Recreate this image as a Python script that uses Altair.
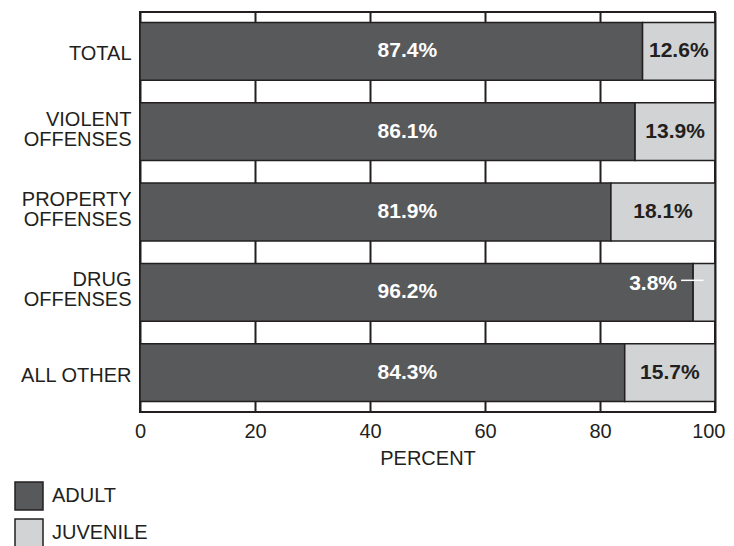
import altair as alt
import pandas as pd

categories = ["TOTAL", "VIOLENT OFFENSES", "PROPERTY OFFENSES", "DRUG OFFENSES", "ALL OTHER"]
adult = [87.4, 86.1, 81.9, 96.2, 84.3]
juvenile = [12.6, 13.9, 18.1, 3.8, 15.7]
groups = ["ADULT", "JUVENILE"]
x_ticks = [0, 20, 40, 60, 80, 100]

DARK = "#58595b"
LIGHT = "#d1d3d4"
INK = "#231f20"
FONT = "Liberation Sans"

rows = []
for c, a, j in zip(categories, adult, juvenile):
    rows.append({"category": c, "group": "ADULT", "value": a, "ord": 0})
    rows.append({"category": c, "group": "JUVENILE", "value": j, "ord": 1})
long_df = pd.DataFrame(rows)
wide_df = pd.DataFrame({"category": categories, "adult": adult, "juvenile": juvenile})

multi_test = "indexof(datum.label, ' ') >= 0 && datum.label != 'ALL OTHER'"

y_enc = alt.Y(
    "category:N",
    sort=categories,
    scale=alt.Scale(paddingInner=0.28, paddingOuter=0.13),
    axis=alt.Axis(
        title=None,
        ticks=False,
        domain=False,
        labelFontSize=20,
        labelFont=FONT,
        labelColor=INK,
        labelPadding=9,
        labelLineHeight=20,
        labelOffset={"condition": {"test": multi_test, "value": -12}, "value": 3},
        labelExpr="datum.label == 'ALL OTHER' ? datum.label : split(datum.label, ' ')",
    ),
)

x_scale = alt.Scale(domain=[0, 100], nice=False)

bars = alt.Chart(long_df).mark_bar(stroke=INK, strokeWidth=1.5).encode(
    x=alt.X(
        "value:Q",
        stack="zero",
        scale=x_scale,
        axis=alt.Axis(
            values=x_ticks,
            title="PERCENT",
            grid=True,
            gridColor=INK,
            gridWidth=2,
            gridOpacity=1,
            ticks=False,
            domain=False,
            labelFlush=False,
            labelAlign={"condition": {"test": "datum.value == 100", "value": "right"}, "value": "center"},
            labelOffset={"condition": {"test": "datum.value == 100", "value": 10}, "value": 0},
            labelFontSize=20,
            labelFont=FONT,
            labelColor=INK,
            labelPadding=9,
            titleFontSize=20,
            titleFont=FONT,
            titleFontWeight="normal",
            titleColor=INK,
            titlePadding=7,
        ),
    ),
    y=y_enc,
    color=alt.Color(
        "group:N",
        scale=alt.Scale(domain=groups, range=[DARK, LIGHT]),
        legend=alt.Legend(
            title=None,
            orient="none",
            legendX=-126,
            legendY=469,
            symbolType="square",
            symbolSize=784,
            symbolStrokeColor=INK,
            symbolStrokeWidth=1.5,
            labelFontSize=20,
            labelFont=FONT,
            labelColor=INK,
            labelOffset=8,
            rowPadding=3,
            padding=0,
        ),
    ),
    order=alt.Order("ord:Q"),
)

adult_labels = alt.Chart(wide_df).transform_calculate(
    label_a="format(datum.adult, '.1f') + '%'"
).mark_text(
    font=FONT, fontSize=21, fontWeight="bold", color="white", align="center", baseline="middle"
).encode(
    x=alt.datum(46.5, scale=x_scale),
    y=alt.Y("category:N", sort=categories),
    text="label_a:N",
)

juv_inside = alt.Chart(wide_df).transform_filter("datum.juvenile >= 5").transform_calculate(
    mid="100 - datum.juvenile / 2",
    label_j="format(datum.juvenile, '.1f') + '%'",
).mark_text(
    font=FONT, fontSize=21, fontWeight="bold", color=INK, align="center", baseline="middle"
).encode(
    x=alt.X("mid:Q", scale=x_scale),
    y=alt.Y("category:N", sort=categories),
    text="label_j:N",
)

juv_outside = alt.Chart(wide_df).transform_filter("datum.juvenile < 5").transform_calculate(
    label_j="format(datum.juvenile, '.1f') + '%'",
).mark_text(
    font=FONT, fontSize=21, fontWeight="bold", color="white", align="right", baseline="middle", dy=-8
).encode(
    x=alt.datum(93.4, scale=x_scale),
    y=alt.Y("category:N", sort=categories),
    text="label_j:N",
)

leader = alt.Chart(wide_df).transform_filter("datum.juvenile < 5").mark_rule(
    color="white", strokeWidth=1.5, yOffset=-12
).encode(
    x=alt.datum(94.1, scale=x_scale),
    x2=alt.datum(98.0),
    y=alt.Y("category:N", sort=categories),
)

chart = alt.layer(bars, adult_labels, juv_inside, juv_outside, leader).properties(
    width=575,
    height=400,
    padding={"left": 6, "top": 4, "right": 0, "bottom": 0},
    background="white",
).configure_view(
    stroke=INK, strokeWidth=2
).configure_text(font=FONT)

chart.save("out.html", embed_options={"renderer": "svg", "actions": False})
